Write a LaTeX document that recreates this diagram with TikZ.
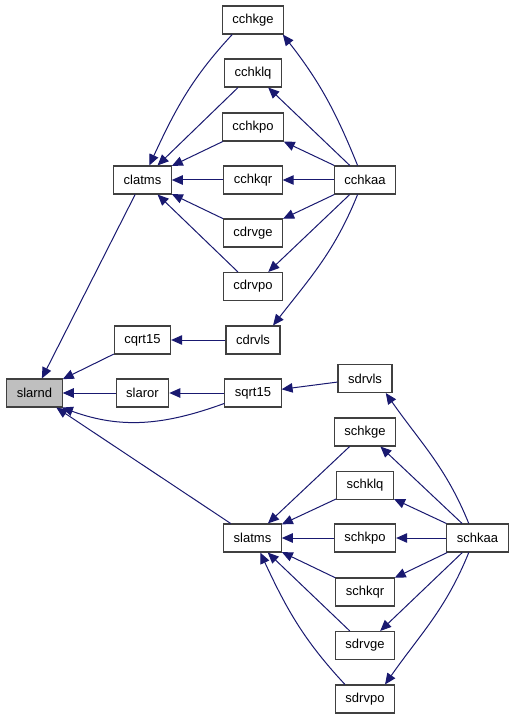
\documentclass[tikz,border=0pt]{standalone}
\usepackage{fontspec}
\setmainfont{Liberation Sans}
\usepackage{xcolor}
\usetikzlibrary{arrows.meta}
\definecolor{edgeBlue}{HTML}{191970}
\definecolor{boxGray}{HTML}{404040}
\definecolor{selGray}{HTML}{BFBFBF}

\begin{document}
\begin{tikzpicture}[x=1pt,y=-1pt,font=\fontsize{13}{15}\selectfont,
  >={Triangle[length=11pt,width=9.5pt]},
  fn/.style={draw=boxGray,line width=1.1pt,fill=white,minimum height=28pt,inner xsep=10pt,inner ysep=0pt},
  sel/.style={fn,fill=selGray},
  call/.style={->,draw=edgeBlue,fill=none,line width=1pt,edgeBlue}]
\useasboundingbox (0,0) rectangle (515,719);
% target and its direct callers
\node[sel] (slarnd) at (34.5,393) {slarnd};
\node[fn] (clatms) at (142.5,180) {clatms};
\node[fn] (cqrt15) at (142.5,340) {cqrt15};
\node[fn] (slaror) at (142.5,393) {slaror};
\node[fn] (slatms) at (252.5,538) {slatms};
\node[fn] (sqrt15) at (253,393) {sqrt15};
% complex side
\node[fn] (cchkge) at (253,20) {cchkge};
\node[fn] (cchklq) at (253,73) {cchklq};
\node[fn] (cchkpo) at (253,127) {cchkpo};
\node[fn] (cchkqr) at (253,180) {cchkqr};
\node[fn] (cdrvge) at (253,233) {cdrvge};
\node[fn] (cdrvpo) at (253,286.5) {cdrvpo};
\node[fn] (cdrvls) at (253,340) {cdrvls};
\node[fn] (cchkaa) at (365,180) {cchkaa};
% real side
\node[fn] (sdrvls) at (365,378.5) {sdrvls};
\node[fn] (schkge) at (365,432) {schkge};
\node[fn] (schklq) at (365,485.5) {schklq};
\node[fn] (schkpo) at (365,538) {schkpo};
\node[fn] (schkqr) at (365,592) {schkqr};
\node[fn] (sdrvge) at (365,645.5) {sdrvge};
\node[fn] (sdrvpo) at (365,699) {sdrvpo};
\node[fn] (schkaa) at (477.5,538) {schkaa};
% calls into slarnd
\draw[call] (clatms) -- (slarnd);
\draw[call] (cqrt15) -- (slarnd);
\draw[call] (slaror) -- (slarnd);
\draw[call] (slatms) -- (slarnd);
\draw[call] (sqrt15.200) to[out=200,in=-20] (slarnd.-28);
% calls into clatms
\draw[call] (cchkge.215) to[out=227,in=65] (clatms.65);
\draw[call] (cchklq) -- (clatms);
\draw[call] (cchkpo) -- (clatms);
\draw[call] (cchkqr) -- (clatms);
\draw[call] (cdrvge) -- (clatms);
\draw[call] (cdrvpo) -- (clatms);
% calls from cchkaa
\draw[call] (cchkaa.117) to[out=112,in=-52] (cchkge.-26);
\draw[call] (cchkaa) -- (cchklq);
\draw[call] (cchkaa) -- (cchkpo);
\draw[call] (cchkaa) -- (cchkqr);
\draw[call] (cchkaa) -- (cdrvge);
\draw[call] (cchkaa) -- (cdrvpo);
\draw[call] (cchkaa.-117) to[out=-112,in=52] (cdrvls.36);
\draw[call] (cdrvls) -- (cqrt15);
% sqrt15 chain
\draw[call] (sqrt15) -- (slaror);
\draw[call] (sdrvls) -- (sqrt15);
% calls from schkaa
\draw[call] (schkaa.121) to[out=112,in=-55] (sdrvls.-35);
\draw[call] (schkaa) -- (schkge);
\draw[call] (schkaa) -- (schklq);
\draw[call] (schkaa) -- (schkpo);
\draw[call] (schkaa) -- (schkqr);
\draw[call] (schkaa) -- (sdrvge);
\draw[call] (schkaa.-121) to[out=-112,in=55] (sdrvpo.36);
% calls into slatms
\draw[call] (schkge) -- (slatms);
\draw[call] (schklq) -- (slatms);
\draw[call] (schkpo) -- (slatms);
\draw[call] (schkqr) -- (slatms);
\draw[call] (sdrvge) -- (slatms);
\draw[call] (sdrvpo.144) to[out=133,in=-65] (slatms.-62);
\end{tikzpicture}
\end{document}
